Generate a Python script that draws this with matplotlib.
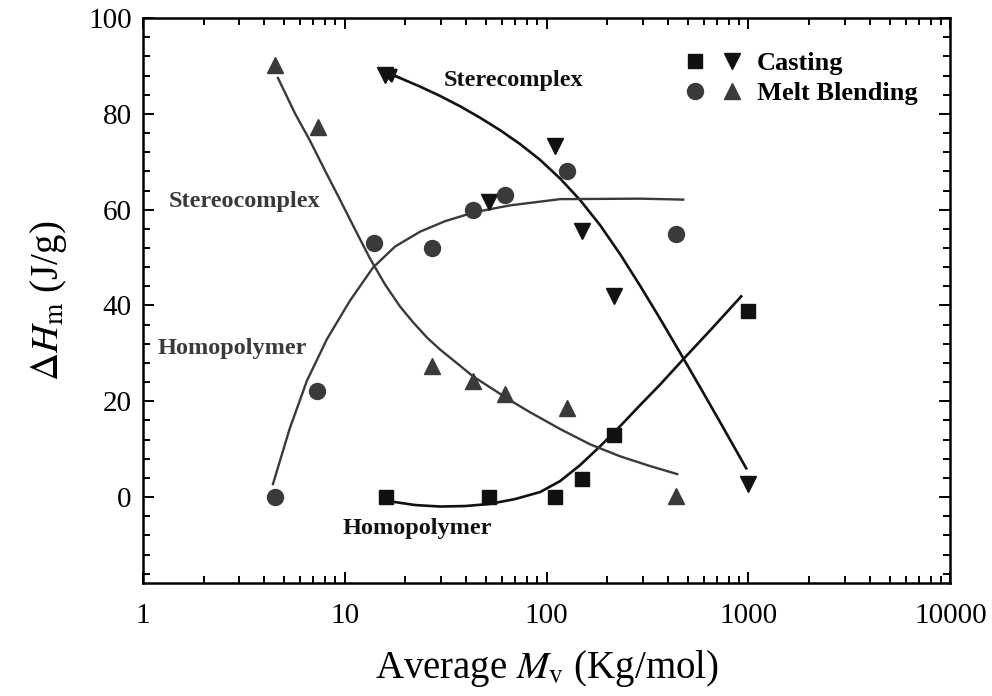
import matplotlib
matplotlib.use('Agg')
import matplotlib.pyplot as plt
from matplotlib.lines import Line2D
from matplotlib.legend_handler import HandlerTuple
from matplotlib.ticker import FixedLocator, MultipleLocator, LogLocator, NullFormatter

plt.rcParams.update({"font.family": "serif", "font.serif": ["Liberation Serif"],
                     "mathtext.fontset": "stix", "font.size": 21})

# casting (black)
cast_sq_x = [16, 52, 110, 150, 215, 1000]
cast_sq_y = [0, 0, 0, 3.8, 12.9, 38.8]
cast_tri_x = [15.8, 52, 110, 150, 215, 1000]
cast_tri_y = [88.1, 61.7, 73.3, 55.5, 41.9, 2.7]

# melt blending (dark grey)
melt_circ_x = [4.5, 7.3, 14, 27, 43, 62, 126, 438]
melt_circ_y = [0, 22.1, 53.1, 52.0, 59.9, 63.1, 68.0, 55.0]
melt_tri_x = [4.5, 7.4, 27, 43, 62, 126, 437]
melt_tri_y = [90.2, 77.3, 27.4, 24.2, 21.5, 18.5, 0.3]

# guide curves, points
fit_sq_x = [16.39, 22.29, 29.66, 39.45, 51.88, 69.81, 92.87, 116.7, 146.6, 184.2,
            231.4, 290.7, 365.3, 474.9, 646.3, 920.6]
fit_sq_y = [-0.83, -1.67, -1.98, -1.88, -1.46, -0.42, 1.04, 3.33, 6.67, 10.6,
            14.8, 19.2, 23.5, 28.75, 34.8, 41.9]
fit_tri_x = [14.95, 18.78, 23.61, 29.66, 37.26, 46.82, 58.83, 73.91, 92.87, 116.7,
             146.6, 184.2, 231.4, 290.7, 365.3, 458.9, 576.6, 724.4, 974.5]
fit_tri_y = [89.2, 87.5, 85.7, 83.75, 81.6, 79.2, 76.6, 73.7, 70.4, 66.5,
             62.0, 56.75, 50.7, 44.1, 37.2, 30.1, 22.9, 15.6, 6.0]
fit_circ_x = [4.41, 5.35, 6.50, 8.17, 10.62, 13.80, 17.75, 23.61, 31.40, 44.22,
              65.94, 116.7, 290.7, 474.9]
fit_circ_y = [2.7, 14.4, 24.3, 33.0, 41.0, 47.9, 52.3, 55.4, 57.6, 59.5,
              60.9, 62.2, 62.3, 62.1]
fit_mt_x = [4.67, 5.67, 6.73, 7.98, 9.47, 11.24, 13.34, 15.83, 18.78, 21.79, 25.56,
            29.66, 35.60, 43.22, 52.48, 65.94, 82.83, 116.7, 164.3, 231.4, 326.0, 443.5]
fit_mt_y = [87.5, 80.1, 74.4, 68.2, 62.1, 55.9, 49.8, 44.4, 39.8, 36.5, 33.3,
            30.8, 28.1, 25.2, 22.9, 20.2, 17.7, 14.2, 11.0, 8.5, 6.46, 4.79]

labels = ['Casting', 'Melt Blending']
xticks = [1, 10, 100, 1000, 10000]
yticks = [0, 20, 40, 60, 80, 100]

black = '#111111'
grey = '#3a3a3a'

fig = plt.figure(figsize=(9.92, 6.96), dpi=100)
ax = fig.add_axes([0.144, 0.162, 0.814, 0.812])

ax.plot(fit_sq_x, fit_sq_y, color=black, lw=1.9)
ax.plot(fit_tri_x, fit_tri_y, color=black, lw=1.9)
ax.annotate('', xy=(fit_tri_x[0], fit_tri_y[0]), xytext=(fit_tri_x[1], fit_tri_y[1]),
            arrowprops=dict(arrowstyle='-|>', color=black, lw=1.9, mutation_scale=22,
                            shrinkA=0, shrinkB=0))
ax.plot(fit_circ_x, fit_circ_y, color=grey, lw=1.7)
ax.plot(fit_mt_x, fit_mt_y, color=grey, lw=1.7)

ax.plot(cast_sq_x, cast_sq_y, 's', color=black, ms=10.5, ls='none')
ax.plot(cast_tri_x, cast_tri_y, 'v', color=black, ms=12, ls='none')
ax.plot(melt_circ_x, melt_circ_y, 'o', color=grey, ms=11.5, ls='none')
ax.plot(melt_tri_x, melt_tri_y, '^', color=grey, ms=12, ls='none')

ax.text(68.2, 87, 'Sterecomplex', fontsize=17.5, fontweight='bold', color=black, ha='center', va='center')
ax.text(3.2, 61.7, 'Stereocomplex', fontsize=17.5, fontweight='bold', color=grey, ha='center', va='center')
ax.text(2.76, 31.0, 'Homopolymer', fontsize=17.5, fontweight='bold', color=grey, ha='center', va='center')
ax.text(22.8, -6.5, 'Homopolymer', fontsize=17.5, fontweight='bold', color=black, ha='center', va='center')

h1 = (Line2D([], [], marker='s', color=black, ls='none', ms=10.5),
      Line2D([], [], marker='v', color=black, ls='none', ms=12))
h2 = (Line2D([], [], marker='o', color=grey, ls='none', ms=11.5),
      Line2D([], [], marker='^', color=grey, ls='none', ms=12))
ax.legend([h1, h2], labels, handler_map={tuple: HandlerTuple(ndivide=None, pad=0.23)},
          loc='upper right', bbox_to_anchor=(0.989, 0.982), frameon=False,
          handlelength=2.58, handletextpad=0.36, labelspacing=0.24,
          prop={'family': 'Liberation Serif', 'weight': 'bold', 'size': 19})

ax.set_xscale('log')
ax.set_xlim(1, 10000)
ax.set_ylim(-18, 100)
ax.xaxis.set_major_locator(FixedLocator(xticks))
ax.set_xticklabels([str(t) for t in xticks])
ax.xaxis.set_minor_locator(LogLocator(base=10, subs=range(2, 10)))
ax.xaxis.set_minor_formatter(NullFormatter())
ax.set_yticks(yticks)
ax.yaxis.set_minor_locator(MultipleLocator(4))
ax.tick_params(which='both', direction='in', top=True, right=True, width=1.4)
ax.tick_params(which='major', length=8)
ax.tick_params(which='minor', length=5)
ax.tick_params(axis='x', pad=14)
ax.tick_params(axis='y', pad=8)
for s in ax.spines.values():
    s.set_linewidth(1.8)

ax.set_xlabel(r'Average $M_{\rm v}$ (Kg/mol)', fontsize=28, labelpad=14)
ax.set_ylabel(r'$\Delta H_{\rm m}$ (J/g)', fontsize=28, labelpad=14)

plt.savefig('out.png', dpi=100)
